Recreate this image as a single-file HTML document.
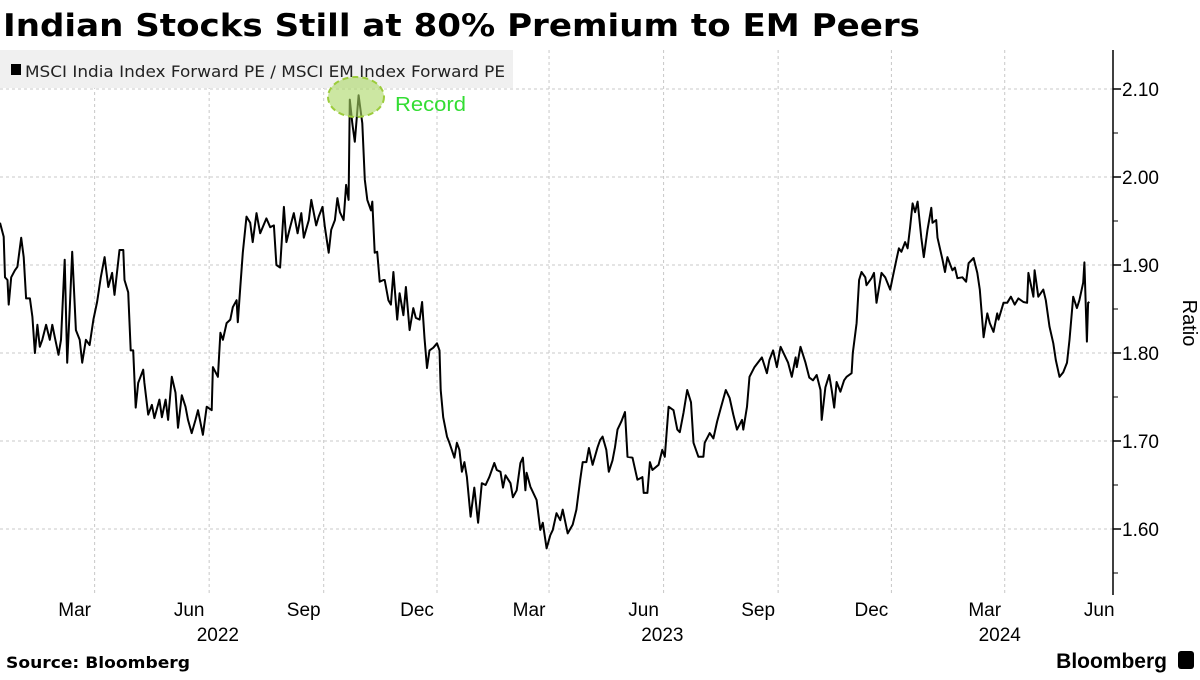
<!DOCTYPE html>
<html><head><meta charset="utf-8">
<style>
html,body{margin:0;padding:0;background:#fff;}
body{width:1200px;height:675px;overflow:hidden;font-family:"Liberation Sans",sans-serif;}
svg text{font-family:"Liberation Sans","DejaVu Sans",sans-serif;}
</style></head>
<body>
<svg id="chart" width="1200" height="675" viewBox="0 0 1200 675">
  <text x="3" y="36" font-size="31" font-weight="bold" fill="#000" textLength="917" lengthAdjust="spacingAndGlyphs" style="font-family:'DejaVu Sans','Liberation Sans',sans-serif">Indian Stocks Still at 80% Premium to EM Peers</text>
  <g id="grid"></g>
  <rect x="0" y="50" width="513" height="38" fill="#f0f0f0"/>
  <rect x="11" y="64" width="10" height="11" fill="#000"/>
  <text x="25" y="77" font-size="16" fill="#222" textLength="480" lengthAdjust="spacingAndGlyphs" style="font-family:'DejaVu Sans','Liberation Sans',sans-serif">MSCI India Index Forward PE / MSCI EM Index Forward PE</text>
  <g id="axes"></g>
  <path id="series" fill="none" stroke="#000" stroke-width="2" stroke-linejoin="round"/>
  <ellipse cx="356" cy="97" rx="28" ry="20" fill="rgba(170,215,100,0.6)" stroke="#9ccc3c" stroke-width="2" stroke-dasharray="6,4"/>
  <text x="395" y="111" font-size="20" fill="#33dd33" textLength="71" lengthAdjust="spacingAndGlyphs">Record</text>
  <text x="1183" y="323" font-size="20" fill="#000" text-anchor="middle" transform="rotate(90 1183 323)">Ratio</text>
  <text x="6" y="668" font-size="16" font-weight="bold" fill="#000" textLength="184" lengthAdjust="spacingAndGlyphs" style="font-family:'DejaVu Sans','Liberation Sans',sans-serif">Source: Bloomberg</text>
  <text x="1167" y="668" font-size="21" font-weight="bold" fill="#000" text-anchor="end">Bloomberg</text>
  <rect x="1178" y="651" width="16" height="18" rx="3" fill="#000"/>
</svg>
<script>
const days = [0,3,4,6,7,9,12,14,17,19,21,24,26,28,30,32,34,37,40,42,44,47,49,52,54,56,58,61,64,66,69,72,75,78,81,84,87,90,92,96,99,100,103,105,107,109,111,115,116,119,122,124,128,130,133,135,138,141,143,146,149,151,154,157,159,163,166,170,171,175,177,179,182,185,187,190,191,193,195,198,201,203,206,209,211,214,217,220,222,225,228,230,233,236,239,242,244,248,250,254,256,259,261,264,266,269,271,273,276,278,280,281,283,285,288,291,293,295,298,299,301,303,305,308,
309,312,314,316,319,321,324,326,329,332,334,337,339,341,343,345,348,351,353,354,356,359,361,365,367,369,371,373,375,378,381,384,387,390,393,397,399,402,404,406,410,412,415,418,420,422,423,426,431,434,436,439,442,444,447,450,452,456,460,463,466,468,471,473,476,480,482,484,487,489,492,494,496,499,502,504,508,512,516,517,520,522,524,529,532,534,537,541,544,546,549,552,555,557,561,565,566,570,573,576,579,583,586,589,592,596,597,600,602,606,612,616,618,621,624,626,
627,633,636,639,640,643,647,650,653,656,659,660,663,666,668,670,672,675,678,680,684,685,688,690,692,695,696,700,702,704,708,711,715,717,720,722,724,727,729,731,733,735,737,740,742,745,748,749,752,753,757,759,761,765,767,769,773,776,778,782,785,787,790,793,795,798,801,802,806,809,812,815,818,822,825,826,830,831,834,838,840,843,846,848,851,854,857,859,862,865,867,870,871,873,874,875];
const ratios = [1.948,1.932,1.886,1.883,1.855,1.886,1.894,1.898,1.931,1.909,1.862,1.862,1.841,1.800,1.832,1.807,1.815,1.832,1.815,1.832,1.818,1.798,1.815,1.906,1.789,1.849,1.915,1.826,1.815,1.789,1.815,1.809,1.838,1.858,1.886,1.909,1.875,1.891,1.866,1.917,1.917,1.883,1.869,1.803,1.803,1.738,1.766,1.781,1.766,1.730,1.741,1.726,1.747,1.727,1.747,1.724,1.773,1.755,1.715,1.752,1.739,1.724,1.709,1.724,1.735,1.707,1.739,1.735,1.784,1.773,1.823,1.815,1.834,1.838,1.852,1.860,1.835,1.875,1.914,1.955,1.948,1.926,1.959,1.936,1.943,1.953,1.943,1.945,1.900,1.897,1.966,1.926,1.943,1.959,1.936,1.959,1.931,1.951,1.974,1.945,1.955,1.966,1.943,1.914,1.940,1.951,1.976,1.960,1.951,1.991,1.974,2.088,2.061,2.040,2.093,2.061,1.997,1.974,1.962,1.972,1.914,1.915,1.881,1.883,
1.883,1.860,1.855,1.892,1.838,1.868,1.843,1.875,1.826,1.851,1.840,1.838,1.858,1.817,1.783,1.803,1.806,1.811,1.803,1.758,1.727,1.705,1.698,1.681,1.698,1.690,1.665,1.676,1.659,1.614,1.647,1.607,1.652,1.650,1.659,1.675,1.667,1.665,1.647,1.661,1.652,1.636,1.644,1.675,1.681,1.644,1.664,1.648,1.633,1.599,1.607,1.578,1.593,1.599,1.618,1.610,1.622,1.595,1.605,1.622,1.656,1.676,1.676,1.692,1.673,1.693,1.701,1.705,1.690,1.665,1.678,1.693,1.713,1.722,1.733,1.682,1.681,1.656,1.659,1.641,1.641,1.676,1.667,1.673,1.690,1.682,1.739,1.735,1.713,1.710,1.732,1.758,1.744,1.698,1.682,1.682,1.698,1.709,1.703,1.722,1.738,1.758,1.749,1.730,1.713,1.724,1.713,1.739,1.773,1.784,1.795,1.777,1.792,1.803,1.784,1.800,
1.807,1.789,1.773,1.795,1.784,1.807,1.789,1.772,1.769,1.775,1.758,1.724,1.761,1.775,1.758,1.738,1.767,1.756,1.769,1.773,1.777,1.800,1.834,1.883,1.892,1.886,1.877,1.885,1.891,1.857,1.891,1.886,1.872,1.886,1.906,1.919,1.915,1.926,1.919,1.943,1.970,1.960,1.972,1.931,1.909,1.940,1.965,1.948,1.951,1.931,1.906,1.892,1.909,1.894,1.897,1.885,1.886,1.881,1.902,1.908,1.891,1.872,1.818,1.845,1.834,1.824,1.845,1.838,1.857,1.857,1.864,1.855,1.862,1.858,1.857,1.891,1.864,1.894,1.864,1.872,1.860,1.830,1.811,1.792,1.773,1.778,1.789,1.815,1.864,1.851,1.860,1.880,1.903,1.813,1.857,1.858];
const yTicks = [1.60,1.70,1.80,1.90,2.00,2.10];
const minorTicks = [1.55,1.65,1.75,1.85,1.95,2.05];
const monthTickDays = [76,168,260,351,441,533,625,716,807];
const monthLabels = ["Mar","Jun","Sep","Dec","Mar","Jun","Sep","Dec","Mar","Jun"];
const yearLabels = ["2022","2023","2024"];
const yearLabelDays = [175,532,803];

const NS = "http://www.w3.org/2000/svg";
const PXD = 1.245;
function xOf(d){ return d * PXD; }
function yOf(v){ return 89 + (2.10 - v) * 880; }
const AXIS_X = 1113, TOP = 50, BOTTOM = 595;
function mk(tag, attrs, parent){ const e = document.createElementNS(NS, tag); for (const k in attrs) e.setAttribute(k, attrs[k]); parent.appendChild(e); return e; }

const grid = document.getElementById('grid');
const axes = document.getElementById('axes');
yTicks.forEach(v => {
  const l = mk('line', {x1:0, x2:AXIS_X, y1:yOf(v), y2:yOf(v), stroke:'#c8c8c8', 'stroke-width':1, 'stroke-dasharray':'3,3'}, grid);
  
  
  const t = mk('line', {x1:AXIS_X, x2:AXIS_X+8, y1:yOf(v), y2:yOf(v), stroke:'#000', 'stroke-width':1.5}, axes);
  
  
  const tx = mk('text', {x:AXIS_X+9, y:yOf(v)+7, 'font-size':19, fill:'#000'}, axes);
  tx.textContent = v.toFixed(2);
  
  
});
minorTicks.forEach(v => {
  const m = mk('line', {x1:AXIS_X, x2:AXIS_X+5, y1:yOf(v), y2:yOf(v), stroke:'#000', 'stroke-width':1}, axes);
  
  
});
monthTickDays.forEach(d => {
  const l = mk('line', {x1:xOf(d), x2:xOf(d), y1:TOP, y2:BOTTOM, stroke:'#c8c8c8', 'stroke-width':1, 'stroke-dasharray':'3,3'}, grid);
  
  
});
const labelDays = monthTickDays.concat([899]);
monthLabels.forEach((s, i) => {
  const t = mk('text', {x:xOf(labelDays[i]) - 20, y:616, 'font-size':19, fill:'#000', 'text-anchor':'middle'}, axes);
  t.textContent = s;
  
  
});
yearLabels.forEach((s, i) => {
  const t = mk('text', {x:xOf(yearLabelDays[i]), y:641, 'font-size':19, fill:'#000', 'text-anchor':'middle'}, axes);
  t.textContent = s;
  
  
});
const ax = mk('line', {x1:AXIS_X, x2:AXIS_X, y1:TOP, y2:BOTTOM, stroke:'#000', 'stroke-width':1.5}, axes);



let dpath = '';
days.forEach((d, i) => { dpath += (i ? 'L' : 'M') + xOf(d).toFixed(1) + ',' + yOf(ratios[i]).toFixed(1); });
document.getElementById('series').setAttribute('d', dpath);
</script>
</body></html>
